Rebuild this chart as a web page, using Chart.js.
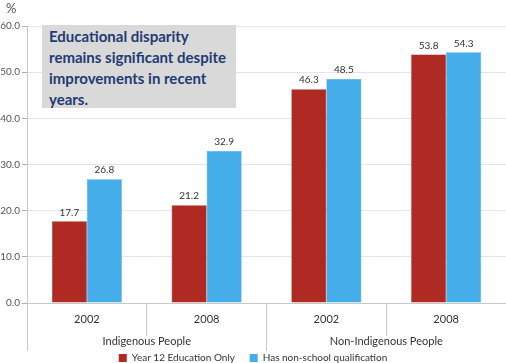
<!DOCTYPE html>
<html>
<head>
<meta charset="utf-8">
<script src="https://cdn.jsdelivr.net/npm/chart.js@4"></script>
<style>
    html, body { margin: 0; padding: 0; background: #fff; }
    #wrap { position: relative; width: 506px; height: 363px; }
    #pct { position: absolute; left: 6px; top: 0px; font: 13px Lato, sans-serif; color: #555; }
    #note {
        position: absolute; left: 42px; top: 25px; width: 187px; height: 82px;
        padding-left: 7px; background: #d9d9d9; color: #1f3b73; white-space: nowrap;
        font: bold 15px Lato, sans-serif; line-height: 21px; box-sizing: content-box;
        padding-top: 1px;
    }
</style>
</head>
<body>
<div id="wrap">
    <canvas id="chart1" width="506" height="363"></canvas>
    <div id="pct">%</div>
    <div id="note">Educational disparity<br>remains significant despite<br>improvements in recent<br>years.</div>
</div>
<script>
var years = ['2002', '2008', '2002', '2008'];
var groups = ['Indigenous People', 'Non-Indigenous People'];
var seriesNames = ['Year 12 Education Only', 'Has non-school qualification'];
var year12Only = [17.7, 21.2, 46.3, 53.8];
var nonSchoolQual = [26.8, 32.9, 48.5, 54.3];
var yTicks = [0, 10, 20, 30, 40, 50, 60];

var FONT = 'Lato, sans-serif';

// value labels over each bar
var valueLabels = {
    id: 'valueLabels',
    afterDatasetsDraw(chart) {
        var ctx = chart.ctx;
        ctx.save();
        ctx.font = '10px ' + FONT;
        ctx.fillStyle = '#333';
        ctx.textAlign = 'center';
        ctx.textBaseline = 'bottom';
        chart.data.datasets.forEach(function(ds, i) {
            chart.getDatasetMeta(i).data.forEach(function(bar, j) {
                ctx.fillText(ds.data[j].toFixed(1), bar.x, bar.y - 4);
            });
        });
        ctx.restore();
    }
};

var ctx = document.getElementById('chart1').getContext('2d');
var chartObj = new Chart(ctx, {
    type: 'bar',
    data: {
        labels: years,
        datasets: [{
            label: seriesNames[0],
            data: year12Only,
            backgroundColor: '#ae2a23',
            borderColor: '#8e1f1a',
            borderWidth: 0.5,
            categoryPercentage: 0.585,
            barPercentage: 1,
        }, {
            label: seriesNames[1],
            data: nonSchoolQual,
            backgroundColor: '#45aeea',
            borderColor: '#3a98cf',
            borderWidth: 0.5,
            categoryPercentage: 0.585,
            barPercentage: 1,
        }]
    },
    options: {
        responsive: false,
        animation: false,
        layout: { padding: { top: 26, right: 0, left: 0, bottom: -10 } },
        plugins: {
            tooltip: { enabled: false },
            legend: {
                position: 'bottom',
                labels: {
                    boxWidth: 8,
                    boxHeight: 8,
                    padding: 2,
                    color: '#333',
                    font: { family: FONT, size: 10 },
                    generateLabels(chart) {
                        var items = Chart.defaults.plugins.legend.labels.generateLabels(chart);
                        items[0].text = items[0].text + '     ';
                        items.forEach(function(it) { it.lineWidth = 0; });
                        return items;
                    }
                }
            }
        },
        scales: {
            x: {
                position: 'bottom',
                grid: { offset: true, drawOnChartArea: false, tickLength: 33, color: '#c8c8c8' },
                border: { color: '#c8c8c8' },
                ticks: { padding: -23, color: '#333', font: { family: FONT, size: 11 } },
                afterFit(scale) { scale.height = 33; }
            },
            x2: {
                type: 'category',
                position: 'bottom',
                labels: groups,
                offset: true,
                grid: { offset: true, drawOnChartArea: false, tickLength: 15, color: '#c8c8c8' },
                border: { display: false },
                ticks: { padding: -16, color: '#333', font: { family: FONT, size: 11 } },
                afterFit(scale) { scale.height = 15; }
            },
            y: {
                min: 0,
                max: 60,
                afterBuildTicks(scale) { scale.ticks = yTicks.map(function(v) { return { value: v }; }); },
                grid: { color: '#e1e5ec', tickColor: '#b0b0b0', tickLength: 5 },
                border: { color: '#c8c8c8' },
                ticks: {
                    padding: 2,
                    color: '#555',
                    font: { family: FONT, size: 10 },
                    callback(v) { return v.toFixed(1); }
                },
                afterFit(scale) { scale.width = 27; }
            }
        }
    },
    plugins: [valueLabels]
});
</script>
</body>
</html>
